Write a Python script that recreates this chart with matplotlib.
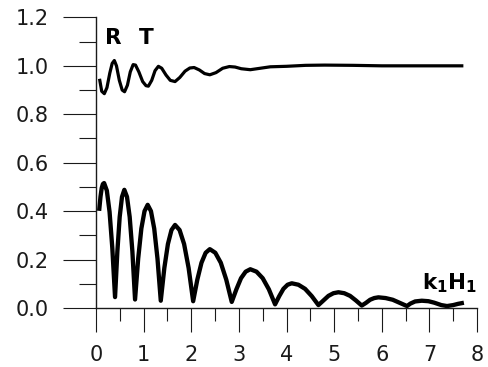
import matplotlib
matplotlib.use("Agg")
import matplotlib.pyplot as plt
from matplotlib.ticker import MultipleLocator

plt.rcParams['font.family'] = ['DejaVu Sans']
plt.rcParams['mathtext.fontset'] = 'dejavusans'

# Reflection coefficient R versus k1*H1
r_x = [0.07, 0.095, 0.12, 0.145, 0.17, 0.2275, 0.285, 0.3425, 0.40,
       0.449, 0.4975, 0.546, 0.595, 0.651, 0.7075, 0.764, 0.82,
       0.886, 0.9525, 1.019, 1.085, 1.154, 1.2225, 1.291, 1.36,
       1.435, 1.51, 1.585, 1.66, 1.755, 1.85, 1.945, 2.04,
       2.1275, 2.215, 2.3025, 2.39, 2.505, 2.62, 2.735, 2.85,
       2.9475, 3.045, 3.1425, 3.24, 3.37, 3.50, 3.63, 3.76,
       3.8475, 3.935, 4.0225, 4.11, 4.25, 4.39, 4.53, 4.67,
       4.775, 4.88, 4.985, 5.09, 5.2125, 5.335, 5.4575, 5.58,
       5.6675, 5.755, 5.8425, 5.93, 6.08, 6.23, 6.38, 6.53,
       6.6, 6.7, 6.84, 6.98, 7.1, 7.25, 7.37, 7.5, 7.6, 7.68]
r_y = [0.41, 0.46, 0.495, 0.512, 0.516, 0.485, 0.397, 0.248, 0.045,
       0.234, 0.376, 0.459, 0.488, 0.459, 0.376, 0.234, 0.035,
       0.204, 0.328, 0.400, 0.426, 0.400, 0.328, 0.204, 0.030,
       0.165, 0.264, 0.322, 0.343, 0.322, 0.264, 0.165, 0.028,
       0.117, 0.187, 0.228, 0.243, 0.228, 0.187, 0.117, 0.025,
       0.077, 0.123, 0.150, 0.160, 0.150, 0.123, 0.077, 0.015,
       0.049, 0.079, 0.096, 0.102, 0.096, 0.079, 0.049, 0.012,
       0.031, 0.050, 0.061, 0.065, 0.061, 0.050, 0.031, 0.010,
       0.021, 0.034, 0.041, 0.044, 0.041, 0.034, 0.021, 0.008,
       0.018, 0.027, 0.030, 0.028, 0.022, 0.012, 0.008, 0.012, 0.017, 0.020]

# Transmission coefficient T versus k1*H1
t_x = [0.08, 0.12, 0.175, 0.23, 0.29, 0.34, 0.385, 0.43, 0.49, 0.55, 0.60,
       0.66, 0.72, 0.78, 0.83, 0.90, 0.98, 1.05, 1.10, 1.17, 1.24, 1.31,
       1.38, 1.47, 1.56, 1.66, 1.76, 1.87, 1.97, 2.06, 2.17, 2.28, 2.39,
       2.52, 2.66, 2.80, 2.92, 3.05, 3.24, 3.45, 3.66, 4.0, 4.4, 4.8,
       5.4, 6.0, 6.6, 7.2, 7.68]
t_y = [0.94, 0.895, 0.885, 0.91, 0.97, 1.01, 1.022, 1.0, 0.94, 0.90, 0.893,
       0.92, 0.975, 1.005, 1.003, 0.975, 0.935, 0.918, 0.916, 0.94, 0.98, 0.998,
       0.99, 0.962, 0.94, 0.935, 0.952, 0.978, 0.991, 0.993, 0.983, 0.968, 0.963,
       0.972, 0.99, 0.997, 0.995, 0.988, 0.984, 0.99, 0.996, 0.998, 1.002, 1.003,
       1.002, 1.0, 1.0, 1.0, 1.0]

x_ticks = [0, 1, 2, 3, 4, 5, 6, 7, 8]
y_ticks = [0.0, 0.2, 0.4, 0.6, 0.8, 1.0, 1.2]
y_tick_labels = ['0.0', '0.2', '0.4', '0.6', '0.8', '1.0', '1.2']

fig = plt.figure(figsize=(4.89, 3.67), dpi=100)
ax = fig.add_axes([0.1963, 0.1608, 0.7792, 0.7918])

ax.plot(r_x, r_y, color='black', lw=3.1, solid_joinstyle='round', clip_on=False)
ax.plot(t_x, t_y, color='black', lw=2.3, solid_joinstyle='round', clip_on=False)

ax.set_xlim(0, 8)
ax.set_ylim(0, 1.2)
ax.set_xticks(x_ticks)
ax.set_xticklabels([str(v) for v in x_ticks])
ax.set_yticks(y_ticks)
ax.set_yticklabels(y_tick_labels)
ax.xaxis.set_minor_locator(MultipleLocator(0.5))
ax.yaxis.set_minor_locator(MultipleLocator(0.1))

for side in ('top', 'right'):
    ax.spines[side].set_visible(False)
for side in ('left', 'bottom'):
    ax.spines[side].set_linewidth(1.0)
    ax.spines[side].set_color('#1a1a1a')

ax.tick_params(axis='y', which='major', direction='out', length=24, width=0.8,
               pad=10, labelsize=15, colors='#1a1a1a')
ax.tick_params(axis='y', which='minor', direction='out', length=12, width=0.8,
               colors='#1a1a1a')
ax.tick_params(axis='x', which='major', direction='out', length=17, width=0.8,
               pad=10, labelsize=15, colors='#1a1a1a')
ax.tick_params(axis='x', which='minor', direction='out', length=9, width=0.8,
               colors='#1a1a1a')

ax.text(0.19, 1.092, 'R', fontsize=15.5, fontweight='bold', ha='left', va='baseline')
ax.text(0.90, 1.092, 'T', fontsize=15.5, fontweight='bold', ha='left', va='baseline')
ax.text(6.84, 0.075, r'$\mathbf{k_1H_1}$', fontsize=15.5, ha='left', va='baseline')

fig.savefig('out.png', dpi=100)
